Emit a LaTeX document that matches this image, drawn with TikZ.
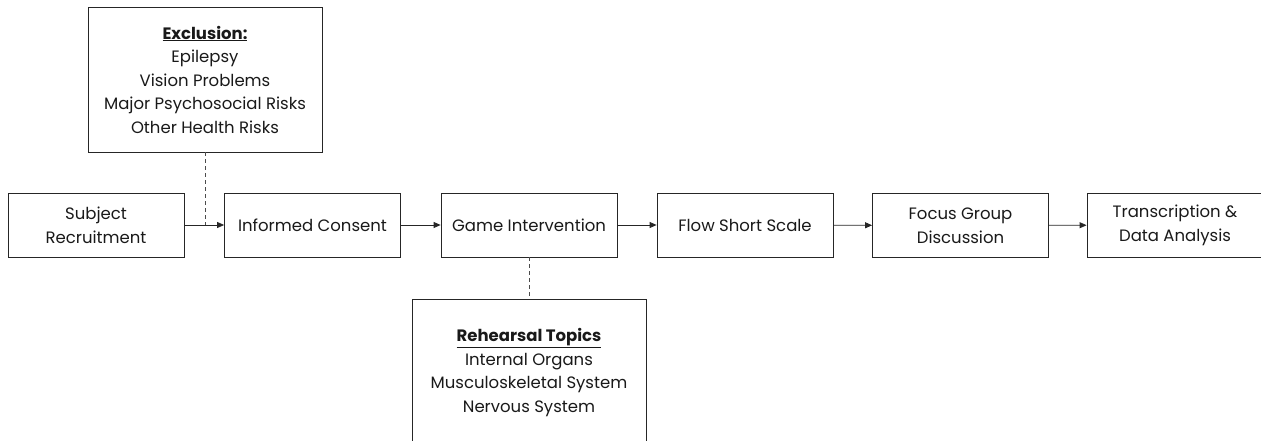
\documentclass[tikz,border=0pt]{standalone}
\usepackage{fontspec}
\setmainfont{Poppins}
\usetikzlibrary{arrows.meta}
\begin{document}
\begin{tikzpicture}[x=1pt,y=-1pt,
  box/.style={draw=black!85, line width=0.8pt, align=center, inner sep=2pt,
    font=\fontsize{16.5}{24}\selectfont, text=black!90},
  stepbox/.style={box, minimum width=176pt, minimum height=64pt},
  notebox/.style={box, minimum width=234pt, font=\fontsize{16.5}{23.5}\selectfont},
  flow/.style={line width=0.8pt, draw=black!85, -{Triangle[length=7pt,width=6pt]}},
  link/.style={line width=0.8pt, draw=black!70, dashed, dash pattern=on 4pt off 3pt}]
\useasboundingbox (0,0) rectangle (1261,441);
\clip (0,0) rectangle (1261,441);
\node[stepbox] (subj) at (96,225) {Subject\\Recruitment};
\node[stepbox] (cons) at (312.5,225) {Informed Consent};
\node[stepbox] (game) at (529,225) {Game Intervention};
\node[stepbox] (fss) at (745,225) {Flow Short Scale};
\node[stepbox] (fgd) at (960.5,225.5) {Focus Group\\Discussion};
\node[stepbox] (tda) at (1175,225) {Transcription \&\\Data Analysis};
\node[notebox, minimum height=145pt] (excl) at (205,79.5)
  {{\bfseries\underline{Exclusion:}}\\Epilepsy\\Vision Problems\\Major Psychosocial Risks\\Other Health Risks};
\node[notebox, minimum height=147pt] (reh) at (529,372.5)
  {{\bfseries\underline{Rehearsal Topics}}\\Internal Organs\\Musculoskeletal System\\Nervous System};
\draw[flow] (subj) -- (cons);
\draw[flow] (cons) -- (game);
\draw[flow] (game) -- (fss);
\draw[flow] (fss) -- (fgd);
\draw[flow] (fgd) -- (tda);
\coordinate (exj) at (excl.south |- subj.east);
\draw[link] (excl.south) -- (exj);
\draw[link] (game.south) -- (reh.north);
\end{tikzpicture}
\end{document}
